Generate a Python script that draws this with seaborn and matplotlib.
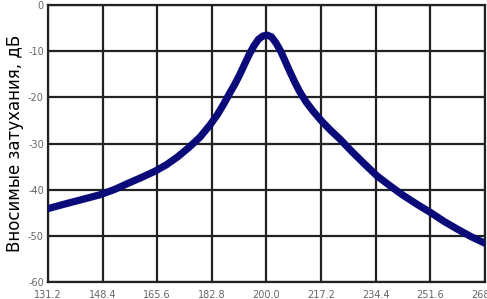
import matplotlib
matplotlib.use("Agg")
import matplotlib.pyplot as plt
import seaborn as sns
import pandas as pd

sns.set_theme(style="whitegrid")
plt.rcParams["font.family"] = ["DejaVu Sans"]
plt.rcParams["axes.unicode_minus"] = False

# Данные
freq = [131.2, 136.0, 141.0, 147.6, 152.0, 156.5, 160.5, 164.9, 168.5, 172.0,
        175.5, 179.1, 182.2, 184.5, 186.5, 188.5, 190.0, 191.5, 193.0, 194.5,
        196.0, 197.5, 198.9, 200.2, 201.6, 203.0, 204.5, 206.0, 207.5, 209.0,
        210.5, 212.5, 214.6, 217.2, 220.0, 223.1, 227.0, 231.0, 234.8, 239.0,
        243.0, 247.5, 251.8, 256.0, 260.0, 264.5, 268.8]
atten = [-44.1, -43.2, -42.3, -41.1, -40.0, -38.6, -37.4, -36.0, -34.6, -32.9,
         -30.9, -28.6, -26.0, -23.8, -21.5, -19.0, -17.2, -15.2, -13.0, -10.8,
         -8.9, -7.4, -6.7, -6.5, -6.9, -8.2, -10.0, -12.3, -14.6, -16.8,
         -18.8, -21.0, -22.9, -25.0, -27.0, -29.0, -31.8, -34.5, -37.0, -39.2,
         -41.2, -43.2, -45.0, -46.9, -48.5, -50.2, -51.6]
xticks = [131.2, 148.4, 165.6, 182.8, 200.0, 217.2, 234.4, 251.6, 268.8]
yticks = [0, -10, -20, -30, -40, -50, -60]

df = pd.DataFrame({"f": freq, "a": atten})

fig = plt.figure(figsize=(4.87, 2.99), dpi=100)
ax = fig.add_axes([0.0986, 0.057, 0.897, 0.926])

sns.lineplot(data=df, x="f", y="a", ax=ax, color="#0a0a78", linewidth=5.2,
             solid_capstyle="round", solid_joinstyle="round", zorder=3)

ax.set_xlim(131.2, 268.8)
ax.set_ylim(-60, 0)
ax.set_xticks(xticks)
ax.set_xticklabels([f"{v:.1f}" for v in xticks])
ax.set_yticks(yticks)
ax.set_yticklabels([str(v) for v in yticks])

ax.grid(True, color="#222222", linewidth=1.6)
for s in ax.spines.values():
    s.set_color("#222222")
    s.set_linewidth(1.6)
ax.tick_params(axis="x", length=0, labelsize=7, colors="#666666", pad=6)
ax.tick_params(axis="y", length=0, labelsize=7, colors="#666666", pad=3)

ax.set_xlabel("")
ax.set_ylabel("Вносимые затухания, дБ", fontsize=12, color="black", labelpad=3)

plt.savefig("out.png", dpi=100)
plt.close()
